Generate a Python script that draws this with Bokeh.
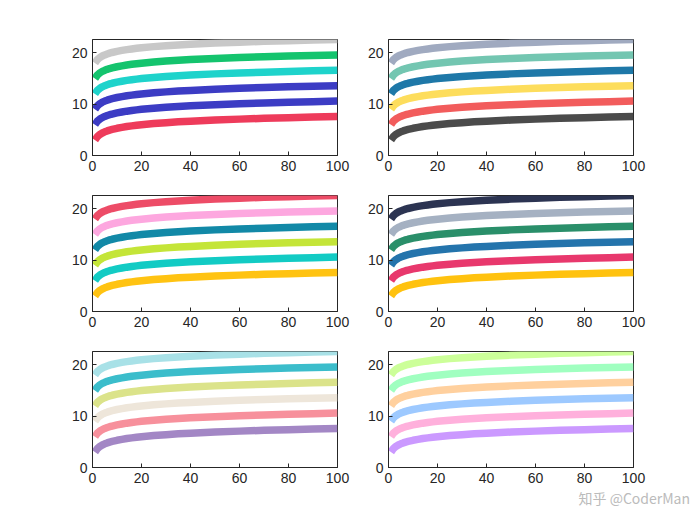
from bokeh.plotting import figure
from bokeh.layouts import column, row
from bokeh.models import Range1d, FixedTicker, Title
from bokeh.embed import file_html
from bokeh.resources import INLINE

# x positions sampled along the curves
x = [1, 2, 3, 4, 5, 6, 7, 8, 10, 12, 14, 16, 18, 20, 25, 30, 35, 40, 50, 60, 70, 80, 90, 100]

# six curves (bottom to top)
s1 = [3.00, 3.69, 4.10, 4.39, 4.61, 4.79, 4.95, 5.08, 5.30, 5.48, 5.64, 5.77, 5.89, 6.00, 6.22, 6.40, 6.56, 6.69, 6.91, 7.09, 7.25, 7.38, 7.50, 7.61]
s2 = [6.00, 6.69, 7.10, 7.39, 7.61, 7.79, 7.95, 8.08, 8.30, 8.48, 8.64, 8.77, 8.89, 9.00, 9.22, 9.40, 9.56, 9.69, 9.91, 10.09, 10.25, 10.38, 10.50, 10.61]
s3 = [9.00, 9.69, 10.10, 10.39, 10.61, 10.79, 10.95, 11.08, 11.30, 11.48, 11.64, 11.77, 11.89, 12.00, 12.22, 12.40, 12.56, 12.69, 12.91, 13.09, 13.25, 13.38, 13.50, 13.61]
s4 = [12.00, 12.69, 13.10, 13.39, 13.61, 13.79, 13.95, 14.08, 14.30, 14.48, 14.64, 14.77, 14.89, 15.00, 15.22, 15.40, 15.56, 15.69, 15.91, 16.09, 16.25, 16.38, 16.50, 16.61]
s5 = [15.00, 15.69, 16.10, 16.39, 16.61, 16.79, 16.95, 17.08, 17.30, 17.48, 17.64, 17.77, 17.89, 18.00, 18.22, 18.40, 18.56, 18.69, 18.91, 19.09, 19.25, 19.38, 19.50, 19.61]
s6 = [18.00, 18.69, 19.10, 19.39, 19.61, 19.79, 19.95, 20.08, 20.30, 20.48, 20.64, 20.77, 20.89, 21.00, 21.22, 21.40, 21.56, 21.69, 21.91, 22.09, 22.25, 22.38, 22.50, 22.61]
series = [s1, s2, s3, s4, s5, s6]

# colour schemes per subplot (bottom curve first)
colors1 = ["#EE3B5B", "#3C3CC4", "#3C3CC4", "#1ED3CB", "#14C46E", "#C8C8C8"]
colors2 = ["#4B4B4B", "#F25C5C", "#FDDD5C", "#1E78A8", "#73C6B1", "#A0AAC0"]
colors3 = ["#FFC312", "#12CBC4", "#C4E538", "#1289A7", "#FDA7DF", "#ED4C67"]
colors4 = ["#FFC20F", "#E8386D", "#2474AC", "#2A8F6A", "#A5B1C2", "#2C3452"]
colors5 = ["#A387C5", "#F7909C", "#EEE6DA", "#DBE38A", "#3BBDCB", "#A8E1E7"]
colors6 = ["#CB99FF", "#FFB0DC", "#9DC9FF", "#FFD09E", "#A0FFC0", "#CCFF99"]

x_ticks = [0, 20, 40, 60, 80, 100]
y_ticks = [0, 10, 20]

AX = "#262626"
FONT = "Liberation Sans"


def make(colors, left, right, top, bottom):
    p = figure(frame_width=245, frame_height=116,
               min_border_left=left, min_border_right=right,
               min_border_top=top, min_border_bottom=bottom,
               x_range=Range1d(0, 100), y_range=Range1d(0, max(s6)),
               output_backend="svg", toolbar_location=None)
    p.grid.visible = False
    p.outline_line_color = AX
    p.outline_line_width = 1
    p.xaxis.ticker = FixedTicker(ticks=x_ticks)
    p.yaxis.ticker = FixedTicker(ticks=y_ticks)
    for ax in (p.xaxis[0], p.yaxis[0]):
        ax.axis_line_color = AX
        ax.major_tick_line_color = AX
        ax.major_tick_in = 4
        ax.major_tick_out = 0
        ax.minor_tick_line_color = None
        ax.major_label_text_color = AX
        ax.major_label_text_font = FONT
        ax.major_label_text_font_size = "14px"
        ax.major_label_standoff = 5
    for s, c in zip(series, colors):
        p.line(x, s, line_color=c, line_width=7.5, line_cap="butt", line_join="round")
    return p


f1 = make(colors1, 92, 25, 39, 24)
f2 = make(colors2, 26, 57, 39, 24)
f3 = make(colors3, 92, 25, 16, 24)
f4 = make(colors4, 26, 57, 16, 24)
f5 = make(colors5, 92, 25, 16, 40)
f6 = make(colors6, 26, 57, 16, 40)

f6.add_layout(Title(text="知乎 @CoderMan", text_font="Noto Sans CJK SC",
                    text_font_size="14px", text_font_style="normal",
                    text_color="#BBBBBB", align="left", offset=190, standoff=0), "below")

layout = column(row(f1, f2), row(f3, f4), row(f5, f6))
open("out.html", "w").write(file_html(layout, INLINE))
